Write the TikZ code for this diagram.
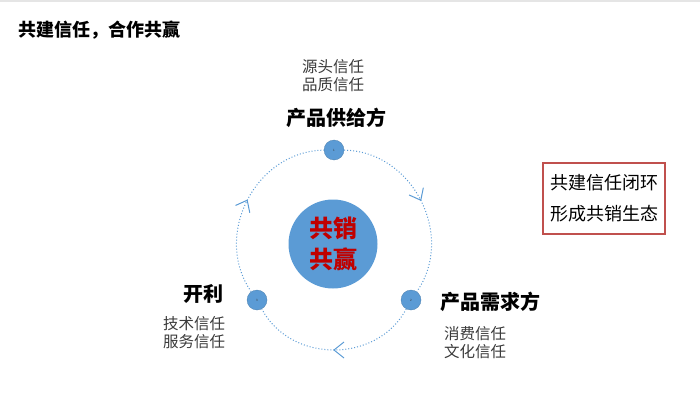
\documentclass[tikz,border=0pt]{standalone}
\usepackage{fontspec}
\setmainfont{Noto Sans CJK SC}
\usetikzlibrary{arrows.meta,decorations.markings}
\definecolor{cblue}{HTML}{5B9BD5}
\definecolor{cred}{HTML}{C00000}
\definecolor{boxred}{HTML}{C0504D}
\definecolor{tgray}{HTML}{3A3A3A}
\begin{document}
\begin{tikzpicture}[x=1pt,y=1pt,
  smallc/.style={circle,fill=cblue,draw=cblue!80!black,line width=0.3pt,minimum size=20pt,inner sep=0pt,font=\fontsize{3}{3}\selectfont,text=black!80},
  ringseg/.style={cblue,dotted,line width=1pt,looseness=1.1,postaction={decorate},
    decoration={markings,mark=at position 0.5 with {\draw[cblue,solid,line width=1pt,line join=miter] (-10pt,8pt) -- (0pt,0pt) -- (-10pt,-8pt);}}},
  head/.style={font=\fontsize{20}{22}\selectfont\bfseries,text=black},
  sub/.style={font=\fontsize{15.5}{18}\selectfont,text=tgray,align=center},
]
\useasboundingbox (0,0) rectangle (700,405);
\fill[black!10] (0,402.5) rectangle (700,405);
\node[anchor=west,font=\fontsize{18}{20}\selectfont\bfseries] (title) at (15,375) {共建信任，合作共赢};
% ring connectors
\coordinate (rc) at (334,160);
\node[smallc] (n1) at (334,255) {1};
\node[smallc] (n2) at (411,105) {2};
\node[smallc] (n3) at (257,105) {3};
\draw[ringseg] (n1) to[bend left=62] (n2);
\draw[ringseg] (n2) to[bend left=62] (n3);
\draw[ringseg] (n3) to[bend left=62] (n1);
% center
\node[circle,fill=cblue,minimum size=89pt,inner sep=0pt,align=center,text=cred,
  font=\fontsize{24}{31}\selectfont\bfseries] (core) at (333,161) {共销\\共赢};
% labels
\node[sub] (s1) at (333,329) {源头信任\\品质信任};
\node[head] (h1) at (336,287) {产品供给方};
\node[head] (h3) at (203,111) {开利};
\node[sub] (s3) at (194,72) {技术信任\\服务信任};
\node[head,anchor=west] (h2) at (437,103) {产品需求方};
\node[sub] (s2) at (475,62) {消费信任\\文化信任};
% box
\node[draw=boxred,line width=1.2pt,minimum width=122pt,minimum height=71pt,align=center,
  font=\fontsize{18}{31}\selectfont] (box) at (604,206.5) {共建信任闭环\\形成共销生态};
\end{tikzpicture}
\end{document}
